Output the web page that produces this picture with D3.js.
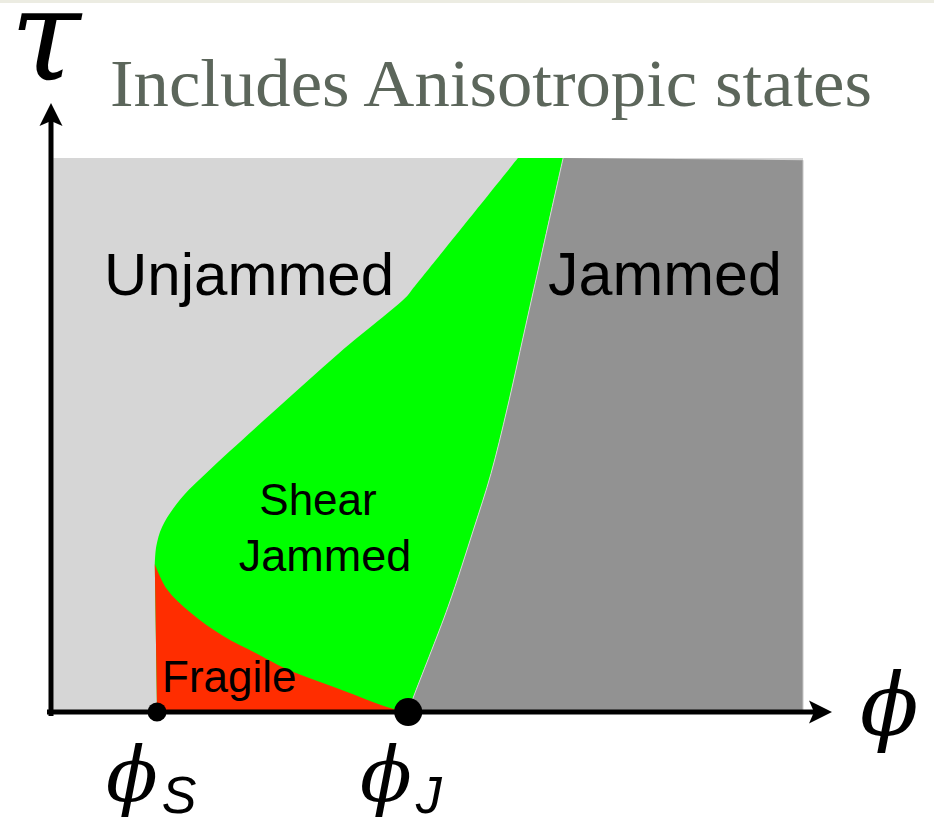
<!DOCTYPE html>
<html>
<head>
<meta charset="utf-8">
<script src="https://cdn.jsdelivr.net/npm/d3@7"></script>
<style>
  body { margin: 0; background: #fff; }
  svg { display: block; }
</style>
</head>
<body>
<script>
    var width = 934, height = 821;

    /* phase boundaries, in (phi, tau) units */
    var phiS = 1.41, phiJ = 4.75;
    var frameRight = 10, frameTop = 10;
    var shearUpper = [[6.21,10],[4.80,7.62],[4.73,7.50],[3.84,6.49],[2.95,5.41],[2.07,4.32],[1.72,3.84],[1.48,3.35],[1.40,2.99],[1.38,2.67]];
    var fragileUpper = [[1.38,2.67],[1.54,2.22],[1.85,1.80],[2.29,1.37],[2.74,1.05],[3.14,0.77],[3.84,0.41],[4.51,0.07],[4.71,0]];
    var jammedEdge = [[4.75,0],[4.82,0.27],[5.28,1.90],[5.62,3.30],[5.85,4.30],[6.07,5.50],[6.30,6.90],[6.81,10]];
    var jammedTopRight = [10, 9.96];

    var title = "Includes Anisotropic states";
    var regionNames = ["Unjammed", "Jammed", "Shear", "Jammed", "Fragile"];

    var x = d3.scaleLinear().domain([0, 10]).range([51, 803]);
    var y = d3.scaleLinear().domain([0, 10]).range([712, 158]);

    var svg = d3.select("body")
        .append("svg").attr("width", width).attr("height", height);

    svg.append("rect").attr("x", 0).attr("y", 0).attr("width", width).attr("height", 3)
        .style("fill", "#ecece2");

    var curve = d3.line()
        .x(function(d){ return x(d[0]); })
        .y(function(d){ return y(d[1]); })
        .curve(d3.curveCatmullRom.alpha(0.5));

    // strip the leading "M" so pieces can be chained
    function seg(pts) { return curve(pts).slice(1); }
    function pt(d) { return x(d[0]) + "," + y(d[1]); }

    // unjammed background
    svg.append("rect")
        .attr("x", x(0.03)).attr("y", y(frameTop))
        .attr("width", x(frameRight) - x(0.03)).attr("height", y(0) - y(frameTop))
        .style("fill", "#d6d6d6");

    // shear jammed
    svg.append("path")
        .attr("d", "M" + seg(shearUpper) + "L" + pt([phiS, 0]) + "L" + seg(jammedEdge) + "Z")
        .style("fill", "#00ff00");

    // fragile
    svg.append("path")
        .attr("d", "M" + pt([phiS, 0]) + "L" + seg(fragileUpper) + "Z")
        .style("fill", "#ff2d00");

    // jammed
    svg.append("path")
        .attr("d", "M" + seg(jammedEdge) + "L" + pt(jammedTopRight) + "L" + pt([frameRight, 0]) + "Z")
        .style("fill", "#929292");

    svg.append("path")
        .attr("d", curve(jammedEdge))
        .style("fill", "none").style("stroke", "#e4e4e4").style("stroke-width", 0.8);

    svg.append("line")
        .attr("x1", x(frameRight)).attr("y1", y(jammedTopRight[1]))
        .attr("x2", x(frameRight)).attr("y2", y(0))
        .style("stroke", "#c6c6c6").style("stroke-width", 1);

    /* axes */
    var axisG = svg.append("g").attr("class", "axes");
    axisG.append("line")
        .attr("x1", x(0)).attr("y1", y(0) + 4)
        .attr("x2", x(0)).attr("y2", 120)
        .style("stroke", "#000").style("stroke-width", 5);
    axisG.append("line")
        .attr("x1", x(0) - 4).attr("y1", y(0))
        .attr("x2", 816).attr("y2", y(0))
        .style("stroke", "#000").style("stroke-width", 5);

    var ax = x(0), ay = y(0);
    axisG.append("path")
        .attr("d", "M" + ax + ",103 L" + (ax + 11.5) + ",126 L" + ax + ",121 L" + (ax - 11.5) + ",126 Z")
        .style("fill", "#000");
    axisG.append("path")
        .attr("d", "M832," + ay + " L809," + (ay - 11.5) + " L814," + ay + " L809," + (ay + 11.5) + " Z")
        .style("fill", "#000");

    svg.append("circle").attr("cx", x(phiS)).attr("cy", y(0)).attr("r", 9.5).style("fill", "#000");
    svg.append("circle").attr("cx", x(phiJ)).attr("cy", y(0)).attr("r", 14).style("fill", "#000");

    /* texts */
    svg.append("text")
        .attr("x", 110).attr("y", 106)
        .attr("textLength", 762).attr("lengthAdjust", "spacingAndGlyphs")
        .style("font-family", "'Liberation Serif', serif")
        .style("font-size", "68px")
        .style("fill", "#5c665b")
        .text(title);

    svg.append("text")
        .attr("x", 10).attr("y", 80)
        .style("font-family", "'DejaVu Serif', serif")
        .style("font-style", "italic")
        .style("font-size", "128px")
        .text("τ");

    var sans = "'Liberation Sans', Arial, sans-serif";
    var labelPos = [[104, 295, 60, "start"], [548, 295, 61, "start"], [318, 515, 44, "middle"], [325, 571, 45, "middle"], [162, 692, 44, "start"]];
    regionNames.forEach(function(name, i){
        var p = labelPos[i];
        svg.append("text")
            .attr("x", p[0]).attr("y", p[1])
            .attr("text-anchor", p[3])
            .style("font-family", sans)
            .style("font-size", p[2] + "px")
            .text(name);
    });

    function phiLabel(px, py, size, sub) {
        var t = svg.append("text").attr("x", px).attr("y", py)
            .style("font-family", "'DejaVu Serif', serif")
            .style("font-style", "italic")
            .style("font-size", size + "px");
        t.append("tspan").text("ϕ");
        if (sub) {
            t.append("tspan")
                .style("font-family", sans)
                .style("font-style", "italic")
                .style("font-size", "52px")
                .attr("dx", 4).attr("dy", 12)
                .text(sub);
        }
    }
    phiLabel(106, 801, 76, "S");
    phiLabel(360, 801, 76, "J");
    phiLabel(860, 735, 86, null);
</script>
</body>
</html>
